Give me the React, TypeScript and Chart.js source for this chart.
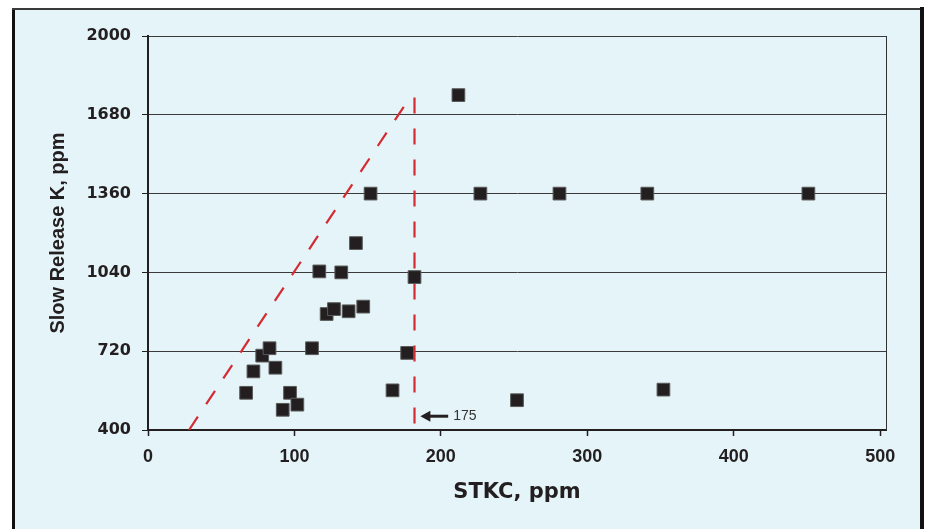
import React, { useEffect, useRef } from 'react';
import { Chart, registerables } from 'chart.js';

Chart.register(...registerables);

// ---- data ----
const stkc = [67, 72, 78, 83, 87, 92, 97, 102, 112, 117, 122, 127, 132, 137, 142, 147, 152, 167, 177, 182, 212, 227, 252, 281, 341, 352, 451];
const slowK = [551, 638, 702, 732, 653, 482, 551, 503, 732, 1044, 871, 891, 1040, 882, 1159, 901, 1360, 561, 713, 1021, 1760, 1360, 521, 1360, 1360, 564, 1360];

// red dashed guide lines
const diagX = [28, 180];
const diagY = [400, 1760];
const vertX = [182, 182];
const vertY = [1750, 400];

// arrow annotation
const arrowLabel = '175';
const arrowTipX = 186;
const arrowTailX = 205;
const arrowY = 456;

// axes
const xTitle = 'STKC, ppm';
const yTitle = 'Slow Release K, ppm';
const xTicks = [0, 100, 200, 300, 400, 500];
const yTicks = [400, 720, 1040, 1360, 1680, 2000];
const xMin = 0;
const xMax = 504;
const yMin = 400;
const yMax = 2000;

const ARIAL = '"Liberation Sans", Arial, Helvetica, sans-serif';
const WIDE = '"DejaVu Sans", Verdana, sans-serif';
const INK = '#231f20';
const BG = '#e5f4f8';
const RED = '#d42a32';

const framePlugin = {
  id: 'frame',
  beforeDraw(chart: any) {
    const { ctx, width, height } = chart;
    ctx.save();
    ctx.fillStyle = '#ffffff';
    ctx.fillRect(0, 0, width, height);
    ctx.fillStyle = BG;
    ctx.fillRect(14, 10, 906, height);
    ctx.strokeStyle = '#111111';
    ctx.lineWidth = 3;
    ctx.beginPath();
    ctx.moveTo(13.5, height + 5);
    ctx.lineTo(13.5, 9);
    ctx.stroke();
    ctx.strokeStyle = '#3a3a3a';
    ctx.lineWidth = 2;
    ctx.beginPath();
    ctx.moveTo(12, 9);
    ctx.lineTo(922, 9);
    ctx.stroke();
    ctx.strokeStyle = '#111111';
    ctx.lineWidth = 4;
    ctx.beginPath();
    ctx.moveTo(922, 7);
    ctx.lineTo(922, height + 5);
    ctx.stroke();
    ctx.restore();
  },
  afterDraw(chart: any) {
    const { ctx, chartArea, scales } = chart;
    ctx.save();
    ctx.strokeStyle = '#333333';
    ctx.lineWidth = 1;
    ctx.beginPath();
    ctx.moveTo(Math.round(chartArea.right) + 0.5, chartArea.top);
    ctx.lineTo(Math.round(chartArea.right) + 0.5, chartArea.bottom);
    ctx.stroke();
    const tip = scales.x.getPixelForValue(arrowTipX);
    const tail = scales.x.getPixelForValue(arrowTailX);
    const y = scales.y.getPixelForValue(arrowY);
    ctx.strokeStyle = INK;
    ctx.fillStyle = INK;
    ctx.lineWidth = 3;
    ctx.beginPath();
    ctx.moveTo(tip + 8, y);
    ctx.lineTo(tail, y);
    ctx.stroke();
    ctx.beginPath();
    ctx.moveTo(tip, y);
    ctx.lineTo(tip + 10, y - 5.5);
    ctx.lineTo(tip + 10, y + 5.5);
    ctx.closePath();
    ctx.fill();
    ctx.fillStyle = '#333333';
    ctx.font = `14px ${ARIAL}`;
    ctx.textAlign = 'left';
    ctx.textBaseline = 'middle';
    ctx.fillText(arrowLabel, tail + 5, y);
    ctx.restore();
  },
};

export default function App() {
  const ref = useRef<HTMLCanvasElement | null>(null);

  useEffect(() => {
    if (!ref.current) return;
    const points = stkc.map((x, i) => ({ x, y: slowK[i] }));
    const diag = diagX.map((x, i) => ({ x, y: diagY[i] }));
    const vert = vertX.map((x, i) => ({ x, y: vertY[i] }));
    const chart = new Chart(ref.current, {
      type: 'scatter',
      data: {
        datasets: [
          {
            data: points,
            pointStyle: 'rect',
            pointRadius: 9,
            pointHoverRadius: 9,
            backgroundColor: INK,
            borderColor: '#5a5a5a',
            borderWidth: 1,
          },
          {
            data: diag,
            showLine: true,
            borderColor: RED,
            borderWidth: 2.2,
            borderDash: [16, 15],
            pointRadius: 0,
            fill: false,
          },
          {
            data: vert,
            showLine: true,
            borderColor: RED,
            borderWidth: 2.2,
            borderDash: [16, 15],
            pointRadius: 0,
            fill: false,
          },
        ],
      } as any,
      options: {
        animation: false,
        responsive: false,
        maintainAspectRatio: false,
        devicePixelRatio: 1,
        layout: { padding: { left: 0, top: 36, right: 42, bottom: 0 } },
        plugins: { legend: { display: false }, tooltip: { enabled: false } },
        scales: {
          x: {
            type: 'linear',
            position: 'bottom',
            min: xMin,
            max: xMax,
            afterBuildTicks: (s: any) => {
              s.ticks = xTicks.map((v) => ({ value: v }));
            },
            afterFit: (s: any) => {
              s.height = 99;
            },
            ticks: {
              padding: 10,
              color: INK,
              font: { family: ARIAL, size: 18, weight: 'bold' },
              callback: (v: any) => String(v),
            },
            grid: {
              drawOnChartArea: false,
              drawTicks: true,
              tickLength: 6,
              tickColor: INK,
              tickWidth: 1.5,
            },
            border: { display: true, color: INK, width: 2 },
            title: {
              display: true,
              text: xTitle,
              color: INK,
              font: { family: WIDE, size: 21, weight: 'bold' },
              padding: { top: 0, bottom: 24 },
            },
          },
          y: {
            type: 'linear',
            min: yMin,
            max: yMax,
            afterBuildTicks: (s: any) => {
              s.ticks = yTicks.map((v) => ({ value: v }));
            },
            afterFit: (s: any) => {
              s.width = 148;
            },
            ticks: {
              padding: 11,
              color: INK,
              font: { family: WIDE, size: 16, weight: 'bold' },
              callback: (v: any) => String(v),
            },
            grid: {
              color: '#3a3a3a',
              lineWidth: 1,
              drawTicks: true,
              tickLength: 6,
              tickColor: INK,
            },
            border: { display: true, color: INK, width: 2 },
            title: {
              display: true,
              text: yTitle,
              color: INK,
              font: { family: ARIAL, size: 20, weight: 'bold' },
              padding: { top: 46, bottom: 0 },
            },
          },
        },
      } as any,
      plugins: [framePlugin],
    });
    return () => chart.destroy();
  }, []);

  return (
    <div style={{ position: 'fixed', left: 0, top: 0, width: 928, height: 529 }}>
      <canvas ref={ref} width={928} height={529} style={{ display: 'block', width: 928, height: 529 }} />
    </div>
  );
}
